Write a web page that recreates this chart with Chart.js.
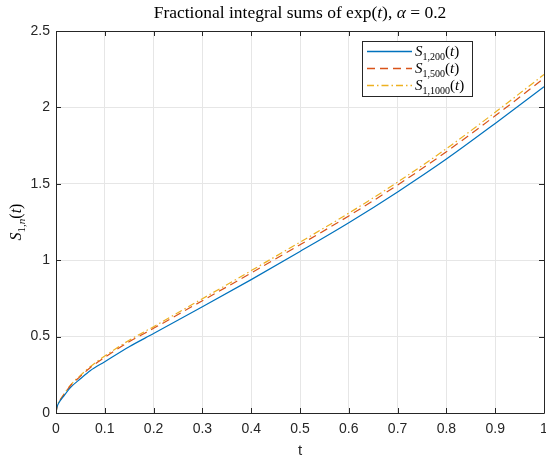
<!DOCTYPE html>
<html>
<head>
<meta charset="utf-8">
<script src="https://cdn.jsdelivr.net/npm/chart.js@4/dist/chart.umd.min.js"></script>
<style>
  html, body { margin: 0; padding: 0; background: #ffffff; }
  #wrap { width: 546px; height: 461px; }
</style>
</head>
<body>
<div id="wrap"><canvas id="c" width="546" height="461"></canvas></div>
<script>
// Sample times and partial fractional integral sums S_{1,n}(t) for n = 200, 500, 1000
const tValues = [0, 0.002, 0.005, 0.015, 0.03, 0.05, 0.07, 0.1, 0.15, 0.2, 0.3, 0.4, 0.5, 0.6, 0.7, 0.8, 0.9, 1.0];
const s200  = [0, 0.038, 0.062, 0.107, 0.168, 0.224, 0.277, 0.336, 0.434, 0.520, 0.695, 0.873, 1.057, 1.245, 1.447, 1.662, 1.895, 2.135];
const s500  = [0, 0.040, 0.066, 0.114, 0.180, 0.240, 0.296, 0.364, 0.466, 0.554, 0.735, 0.916, 1.101, 1.290, 1.492, 1.710, 1.945, 2.190];
const s1000 = [0, 0.041, 0.068, 0.117, 0.184, 0.246, 0.303, 0.373, 0.476, 0.565, 0.748, 0.932, 1.118, 1.308, 1.511, 1.730, 1.968, 2.215];

const seriesNames = ['1,200', '1,500', '1,1000'];

const xTickValues = [0, 0.1, 0.2, 0.3, 0.4, 0.5, 0.6, 0.7, 0.8, 0.9, 1];
const xTickLabels = ['0', '0.1', '0.2', '0.3', '0.4', '0.5', '0.6', '0.7', '0.8', '0.9', '1'];
const yTickValues = [0, 0.5, 1, 1.5, 2, 2.5];
const yTickLabels = ['0', '0.5', '1', '1.5', '2', '2.5'];

const AXIS = '#262626';
const SANS = 'Liberation Sans, Arial, sans-serif';
const SERIF = 'Liberation Serif, Times New Roman, serif';

const colors = ['#0072BD', '#D95319', '#EDB120'];
const dashes = [[], [8, 5], [7, 3, 1.5, 3]];

function pts(ys) { return tValues.map((t, i) => ({ x: t, y: ys[i] })); }

// Draw a run of text pieces with their own fonts and baseline shifts
function richWidth(ctx, segs) {
  let w = 0;
  segs.forEach(s => { ctx.font = s.f; w += ctx.measureText(s.t).width; });
  return w;
}
function drawRich(ctx, segs, x, y, align) {
  const w = richWidth(ctx, segs);
  let cx = align === 'center' ? x - w / 2 : x;
  ctx.textBaseline = 'alphabetic';
  ctx.textAlign = 'left';
  segs.forEach(s => {
    ctx.font = s.f;
    ctx.fillText(s.t, cx, y + (s.dy || 0));
    cx += ctx.measureText(s.t).width;
  });
}

const rm = sz => sz + 'px ' + SERIF;
const it = sz => 'italic ' + sz + 'px ' + SERIF;

function sLabel(sub, size, subSize) {
  return [
    { t: 'S', f: it(size) },
    { t: sub, f: rm(subSize), dy: Math.round(size * 0.28) },
    { t: '(', f: rm(size) },
    { t: 't', f: it(size) },
    { t: ')', f: rm(size) }
  ];
}

const framePlugin = {
  id: 'frame',
  afterDraw(chart) {
    const ctx = chart.ctx;
    const a = chart.chartArea;
    const xs = chart.scales.x, ys = chart.scales.y;
    ctx.save();
    ctx.strokeStyle = AXIS;
    ctx.lineWidth = 1;
    // axes box
    ctx.beginPath();
    ctx.rect(Math.round(a.left) + 0.5, Math.round(a.top) + 0.5,
             Math.round(a.right - a.left), Math.round(a.bottom - a.top));
    ctx.stroke();
    // inward tick marks on all four sides
    const tl = 5;
    ctx.beginPath();
    xTickValues.forEach(v => {
      const px = Math.round(xs.getPixelForValue(v)) + 0.5;
      ctx.moveTo(px, a.bottom); ctx.lineTo(px, a.bottom - tl);
      ctx.moveTo(px, a.top); ctx.lineTo(px, a.top + tl);
    });
    yTickValues.forEach(v => {
      const py = Math.round(ys.getPixelForValue(v)) + 0.5;
      ctx.moveTo(a.left, py); ctx.lineTo(a.left + tl, py);
      ctx.moveTo(a.right, py); ctx.lineTo(a.right - tl, py);
    });
    ctx.stroke();

    // title
    ctx.fillStyle = '#000000';
    const cx = (a.left + a.right) / 2;
    drawRich(ctx, [
      { t: 'Fractional integral sums of exp(', f: rm(17.5) },
      { t: 't', f: it(17.5) },
      { t: '), ', f: rm(17.5) },
      { t: 'α', f: it(17.5) },
      { t: ' = 0.2', f: rm(17.5) }
    ], cx, 18, 'center');

    // x axis title
    ctx.fillStyle = AXIS;
    ctx.font = '15px ' + SANS;
    ctx.textAlign = 'center';
    ctx.textBaseline = 'middle';
    ctx.fillText('t', cx, 451);

    // y axis title
    ctx.save();
    ctx.translate(21, (a.top + a.bottom) / 2);
    ctx.rotate(-Math.PI / 2);
    ctx.fillStyle = '#000000';
    drawRich(ctx, [
      { t: 'S', f: it(16) },
      { t: '1,', f: rm(11), dy: 4 },
      { t: 'n', f: it(11), dy: 4 },
      { t: '(', f: rm(16) },
      { t: 't', f: it(16) },
      { t: ')', f: rm(16) }
    ], 0, 0, 'center');
    ctx.restore();

    // legend
    const lx = 362, ly = 41, lw = 110, lh = 55;
    ctx.fillStyle = '#ffffff';
    ctx.fillRect(lx, ly, lw, lh);
    ctx.strokeStyle = AXIS;
    ctx.strokeRect(lx + 0.5, ly + 0.5, lw, lh);
    const rows = [51, 68, 85];
    rows.forEach((ry, i) => {
      ctx.save();
      ctx.strokeStyle = colors[i];
      ctx.lineWidth = 1.3;
      ctx.setLineDash(dashes[i]);
      ctx.beginPath();
      ctx.moveTo(367, ry + 0.5);
      ctx.lineTo(412, ry + 0.5);
      ctx.stroke();
      ctx.restore();
      ctx.fillStyle = '#000000';
      drawRich(ctx, sLabel(seriesNames[i], 15, 10), 415, ry + 5, 'left');
    });
    ctx.restore();
  }
};

new Chart(document.getElementById('c'), {
  type: 'line',
  data: {
    datasets: [
      { label: 'S_{1,200}(t)', data: pts(s200) },
      { label: 'S_{1,500}(t)', data: pts(s500) },
      { label: 'S_{1,1000}(t)', data: pts(s1000) }
    ].map((d, i) => Object.assign(d, {
      borderColor: colors[i],
      borderWidth: 1.2,
      borderDash: dashes[i],
      pointRadius: 0,
      fill: false,
      cubicInterpolationMode: 'monotone'
    }))
  },
  options: {
    responsive: false,
    animation: false,
    devicePixelRatio: 1,
    layout: { padding: { top: 31, right: 2, left: 0, bottom: 0 } },
    plugins: { legend: { display: false }, title: { display: false }, tooltip: { enabled: false } },
    scales: {
      x: {
        type: 'linear', min: 0, max: 1,
        afterBuildTicks: s => { s.ticks = xTickValues.map(v => ({ value: v })); },
        afterFit: s => { s.height = 48; s.paddingLeft = 0; s.paddingRight = 0; },
        ticks: {
          autoSkip: false, maxRotation: 0, padding: 8, color: AXIS,
          font: { family: SANS, size: 14 },
          callback: (v, i) => xTickLabels[i]
        },
        grid: { color: '#e6e6e6', lineWidth: 1, drawTicks: false },
        border: { display: false }
      },
      y: {
        type: 'linear', min: 0, max: 2.5,
        afterBuildTicks: s => { s.ticks = yTickValues.map(v => ({ value: v })); },
        afterFit: s => { s.width = 56; s.paddingTop = 0; s.paddingBottom = 0; },
        ticks: {
          autoSkip: false, padding: 6, color: AXIS,
          font: { family: SANS, size: 14 },
          callback: (v, i) => yTickLabels[i]
        },
        grid: { color: '#e6e6e6', lineWidth: 1, drawTicks: false },
        border: { display: false }
      }
    }
  },
  plugins: [framePlugin]
});
</script>
</body>
</html>
